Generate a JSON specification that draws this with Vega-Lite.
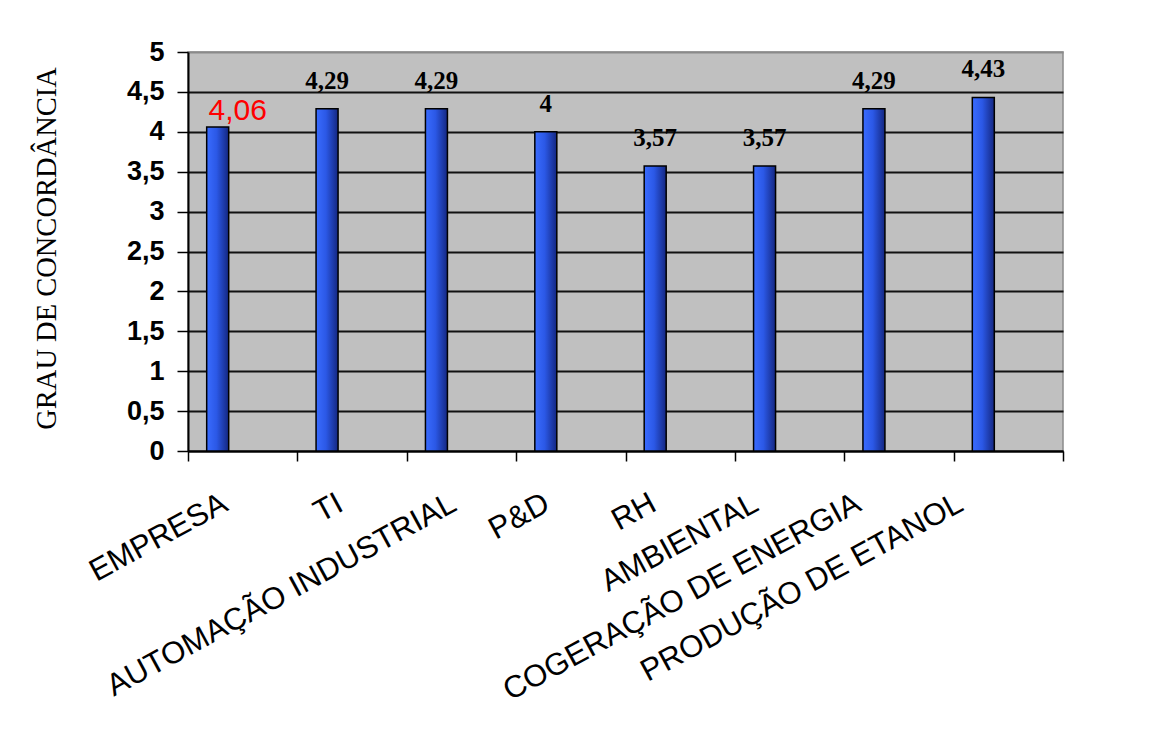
{
  "$schema": "https://vega.github.io/schema/vega-lite/v6.json",
  "autosize": {"type": "none"},
  "padding": {"left": 188, "top": 52, "right": 97, "bottom": 282},
  "width": 875,
  "height": 399,
  "background": "white",
  "config": {
    "locale": {"number": {"decimal": ",", "thousands": ".", "grouping": [3], "currency": ["R$ ", ""]}},
    "view": {"fill": "#C0C0C0", "stroke": "#8a8a8a", "strokeWidth": 1.5}
  },
  "data": {
    "values": [
      {"area": "EMPRESA", "grau": 4.06},
      {"area": "TI", "grau": 4.29},
      {"area": "AUTOMAÇÃO INDUSTRIAL", "grau": 4.29},
      {"area": "P&D", "grau": 4},
      {"area": "RH", "grau": 3.57},
      {"area": "AMBIENTAL", "grau": 3.57},
      {"area": "COGERAÇÃO  DE ENERGIA", "grau": 4.29},
      {"area": "PRODUÇÃO DE ETANOL", "grau": 4.43}
    ]
  },
  "encoding": {
    "x": {
      "field": "area",
      "type": "nominal",
      "sort": null,
      "scale": {"paddingInner": 0, "paddingOuter": 0},
      "axis": {
        "title": null,
        "grid": false,
        "domainColor": "black",
        "domainWidth": 2,
        "ticks": true,
        "tickBand": "extent",
        "tickSize": 10,
        "tickColor": "black",
        "tickWidth": 1.5,
        "labelAngle": -28.5,
        "labelAlign": "right",
        "labelBaseline": "top",
        "labelPadding": 27,
        "labelFont": "Liberation Sans",
        "labelFontSize": 31,
        "labelColor": "black",
        "labelLimit": 600,
        "labelOverlap": false,
        "labelBound": false,
        "labelOffset": {
          "condition": [
            {"test": "datum.value === 'EMPRESA'", "value": -25},
            {"test": "datum.value === 'TI'", "value": -19},
            {"test": "datum.value === 'AUTOMAÇÃO INDUSTRIAL'", "value": -15},
            {"test": "datum.value === 'P&D'", "value": -31},
            {"test": "datum.value === 'RH'", "value": -34},
            {"test": "datum.value === 'AMBIENTAL'", "value": -41},
            {"test": "datum.value === 'COGERAÇÃO  DE ENERGIA'", "value": -48}
          ],
          "value": -55
        }
      }
    },
    "y": {
      "field": "grau",
      "type": "quantitative",
      "scale": {"domain": [0, 5], "nice": false},
      "axis": {
        "title": "GRAU DE CONCORDÂNCIA",
        "titleFont": "Liberation Serif",
        "titleFontSize": 28.5,
        "titleFontWeight": "normal",
        "titleColor": "black",
        "titleAngle": -90,
        "titleX": -142,
        "titleY": 196,
        "titleAlign": "center",
        "titleBaseline": "middle",
        "values": [0, 0.5, 1, 1.5, 2, 2.5, 3, 3.5, 4, 4.5, 5],
        "format": ".1~f",
        "labelFont": "Liberation Sans",
        "labelFontWeight": "bold",
        "labelFontSize": 27,
        "labelColor": "black",
        "labelPadding": 13,
        "tickSize": 11,
        "tickColor": "black",
        "tickWidth": 1.5,
        "domainColor": "black",
        "domainWidth": 2,
        "grid": true,
        "gridWidth": 1.8,
        "gridColor": {
          "condition": {"test": "datum.value === 5", "value": "#8a8a8a"},
          "value": "#111111"
        }
      }
    }
  },
  "layer": [
    {
      "mark": {
        "type": "bar",
        "width": 22,
        "xOffset": -25,
        "fill": {
          "gradient": "linear",
          "x1": 0, "y1": 0, "x2": 1, "y2": 0,
          "stops": [
            {"offset": 0, "color": "#3a6cff"},
            {"offset": 0.45, "color": "#2b58e6"},
            {"offset": 1, "color": "#142781"}
          ]
        },
        "stroke": "black",
        "strokeWidth": 1.5
      }
    },
    {
      "transform": [{"filter": "datum.area !== 'EMPRESA'"}],
      "mark": {
        "type": "text",
        "xOffset": -25,
        "dy": -20,
        "baseline": "alphabetic",
        "font": "Liberation Serif",
        "fontWeight": "bold",
        "fontSize": 25,
        "color": "black"
      },
      "encoding": {"text": {"field": "grau", "type": "quantitative", "format": ".2~f"}}
    },
    {
      "transform": [{"filter": "datum.area === 'EMPRESA'"}],
      "mark": {
        "type": "text",
        "xOffset": -5,
        "dy": -7,
        "baseline": "alphabetic",
        "font": "Liberation Sans",
        "fontSize": 30,
        "color": "#ff0000"
      },
      "encoding": {"text": {"field": "grau", "type": "quantitative", "format": ".2~f"}}
    }
  ]
}
